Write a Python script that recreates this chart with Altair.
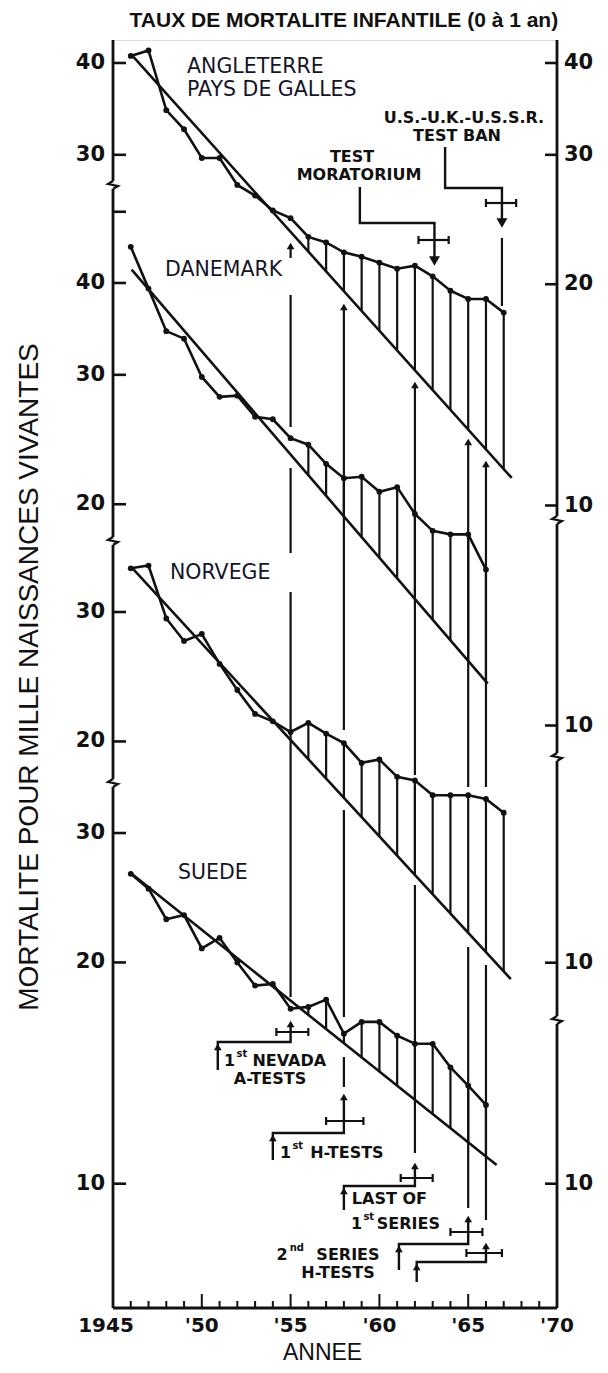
import altair as alt
import pandas as pd

# ---------------- data ----------------
years_en = list(range(1946, 1968))
mort_en = [40.9, 41.6, 34.5, 32.5, 29.7, 29.7, 27.3, 26.4, 25.2, 24.6, 23.2,
           22.8, 22.1, 21.8, 21.4, 21.0, 21.2, 20.5, 19.6, 19.1, 19.1, 18.3]
years_dk = list(range(1946, 1967))
mort_dk = [44.8, 39.3, 34.4, 33.6, 29.8, 28.0, 28.1, 26.3, 26.1, 24.6, 24.1,
           22.7, 21.7, 21.8, 20.8, 21.1, 19.4, 18.4, 18.2, 18.2, 16.3]
years_no = list(range(1946, 1968))
mort_no = [34.4, 34.7, 29.4, 27.4, 28.0, 25.5, 23.5, 21.8, 21.3, 20.6, 21.2,
           20.5, 19.9, 18.7, 18.9, 17.9, 17.7, 16.9, 16.9, 16.9, 16.7, 16.0]
years_se = list(range(1946, 1967))
mort_se = [26.4, 25.2, 22.9, 23.2, 20.9, 21.6, 20.0, 18.6, 18.7, 17.3, 17.4,
           17.8, 16.0, 16.6, 16.6, 15.9, 15.5, 15.5, 14.4, 13.6, 12.8]

series_keys = ["en", "dk", "no", "se"]
series_years = [years_en, years_dk, years_no, years_se]
series_vals = [mort_en, mort_dk, mort_no, mort_se]
series_labels = [["ANGLETERRE", "PAYS DE GALLES"], ["DANEMARK"], ["NORVEGE"], ["SUEDE"]]

# trend lines (end points)
trend_y0 = [1946.1, 1946.05, 1946.1, 1946.05]
trend_v0 = [40.9, 41.7, 34.4, 26.4]
trend_y1 = [1967.45, 1966.1, 1967.4, 1966.6]
trend_v1 = [10.9, 11.4, 9.5, 10.6]
hatch_from = [1956, 1956, 1956, 1956]

# axis ticks
left_tick_vals = [[40, 30], [50, 40, 30, 20], [30, 20], [30, 20, 10]]
left_tick_show = [[True, True], [False, True, True, True], [True, True], [True, True, True]]
right_tick_vals = [[40, 30, 20, 10], [10], [10], [10]]
x_major = [1945, 1950, 1955, 1960, 1965, 1970]
x_major_labels = ["1945", "'50", "'55", "'60", "'65", "'70"]

# events
event_years = [1955, 1958, 1962, 1965, 1966]

# ---------------- layout ----------------
PX_DEC = 735.0                                    # pixels per decade (log scale)
panel_off = [1240.5, 1460.5, 1697.7, 1918.7]      # page y of value 1 for each panel
Y_TOP, Y_BOT = 40, 1308
X0, X1 = 1945, 1970
W, H = 444, Y_BOT - Y_TOP
PXY = 444 / 25.0                                  # px per year

BLACK = "#111111"
FNT = "DejaVu Sans"
FNT2 = "Liberation Sans"

xs = alt.Scale(domain=[X0, X1], nice=False, zero=False)
ys = alt.Scale(domain=[Y_TOP, Y_BOT], reverse=True, nice=False, zero=False)


def X(f="x"):
    return alt.X(f + ":Q", scale=xs, axis=None)


def Y(f="y"):
    return alt.Y(f + ":Q", scale=ys, axis=None)


LOGPOS = "datum.off - %f * log(datum.value) / LN10" % PX_DEC

# observations table
obs_rows = []
for k, key in enumerate(series_keys):
    for yr, v in zip(series_years[k], series_vals[k]):
        obs_rows.append(dict(series=key, x=yr, value=v, off=panel_off[k],
                             t0=trend_y0[k], v0=trend_v0[k], t1=trend_y1[k], v1=trend_v1[k],
                             hf=hatch_from[k]))
obs = pd.DataFrame(obs_rows)

trend_rows = []
for k, key in enumerate(series_keys):
    trend_rows.append(dict(series=key, x=trend_y0[k], value=trend_v0[k], off=panel_off[k], o=0))
    trend_rows.append(dict(series=key, x=trend_y1[k], value=trend_v1[k], off=panel_off[k], o=1))
trend = pd.DataFrame(trend_rows)

base_obs = alt.Chart(obs).transform_calculate(y=LOGPOS)

data_line = base_obs.mark_line(color=BLACK, strokeWidth=2.6).encode(
    x=X(), y=Y(), detail="series:N", order="x:Q")
data_pts = base_obs.mark_circle(color=BLACK, opacity=1, size=34).encode(x=X(), y=Y())

hatch = alt.Chart(obs).transform_filter("datum.x >= datum.hf").transform_calculate(
    y=LOGPOS,
    y2="datum.off - %f * (log(datum.v0) + (datum.x - datum.t0) / (datum.t1 - datum.t0) * (log(datum.v1) - log(datum.v0))) / LN10" % PX_DEC,
).mark_rule(color=BLACK, strokeWidth=2.2).encode(x=X(), y=Y(), y2="y2:Q")

trend_line = alt.Chart(trend).transform_calculate(y=LOGPOS).mark_line(
    color=BLACK, strokeWidth=2.6).encode(x=X(), y=Y(), detail="series:N", order="o:Q")

# axis ticks and labels
tick_rows = []
for k, key in enumerate(series_keys):
    for v, show in zip(left_tick_vals[k], left_tick_show[k]):
        tick_rows.append(dict(side="L", x=X0, x2=X0 + 13 / PXY, value=v, off=panel_off[k],
                              label=str(v) if show else ""))
    for v in right_tick_vals[k]:
        tick_rows.append(dict(side="R", x=X1, x2=X1 - 12 / PXY, value=v, off=panel_off[k],
                              label=str(v)))
ticks = pd.DataFrame(tick_rows)
base_ticks = alt.Chart(ticks).transform_calculate(y=LOGPOS)
tick_marks = base_ticks.mark_rule(color=BLACK, strokeWidth=2.6).encode(x=X(), x2="x2:Q", y=Y())
tick_lab_l = base_ticks.transform_filter("datum.side == 'L'").mark_text(
    font=FNT, fontWeight="bold", fontSize=21, align="right", baseline="middle", dx=-8, color=BLACK
).encode(x=X(), y=Y(), text="label:N")
tick_lab_r = base_ticks.transform_filter("datum.side == 'R'").mark_text(
    font=FNT, fontWeight="bold", fontSize=21, align="left", baseline="middle", dx=7, color=BLACK
).encode(x=X(), y=Y(), text="label:N")

# axis lines with breaks
axis_segments = pd.DataFrame(dict(
    x=[X0] * 4 + [X1] * 4,
    y=[Y_TOP, 189, 545, 787, Y_TOP, 524, 761, 1024],
    y2=[181, 537, 779, Y_BOT, 516, 753, 1016, Y_BOT],
))
axis_lines = alt.Chart(axis_segments).mark_rule(color=BLACK, strokeWidth=2.8).encode(
    x=X(), y=Y(), y2="y2:Q")

break_centres = [(X0, 185), (X0, 541), (X0, 783), (X1, 520), (X1, 757), (X1, 1020)]
zig = [(0, -4), (-5, -1), (5, 1), (0, 4)]
brk_rows = []
for i, (bx, by) in enumerate(break_centres):
    for j, (dx, dy) in enumerate(zig):
        brk_rows.append(dict(b=i, o=j, x=bx + dx / PXY, y=by + dy))
breaks = alt.Chart(pd.DataFrame(brk_rows)).mark_line(color=BLACK, strokeWidth=2.2).encode(
    x=X(), y=Y(), detail="b:N", order="o:Q")

x_axis_line = alt.Chart(pd.DataFrame(dict(x=[X0], x2=[X1], y=[Y_BOT]))).mark_rule(
    color=BLACK, strokeWidth=2.8).encode(x=X(), x2="x2:Q", y=Y())
xt_rows = []
for yr in range(X0 + 1, X1):
    xt_rows.append(dict(x=yr, y=Y_BOT, y2=Y_BOT - (14 if yr % 5 == 0 else 7)))
x_ticks = alt.Chart(pd.DataFrame(xt_rows)).mark_rule(color=BLACK, strokeWidth=2).encode(
    x=X(), y=Y(), y2="y2:Q")
x_lab_df = pd.DataFrame(dict(x=x_major, y=[1326] * 6, t=x_major_labels))
x_lab_df.loc[0, "x"] = X0 - 7 / PXY
x_labels = alt.Chart(x_lab_df).mark_text(
    font=FNT, fontWeight="bold", fontSize=20, align="center", baseline="middle", color=BLACK
).encode(x=X(), y=Y(), text="t:N")

# event lines (segments, page y)
ev_seg = pd.DataFrame(dict(
    x=[1955, 1955, 1955, 1955, 1958, 1958, 1958, 1962, 1962, 1962, 1965, 1965, 1966, 1966, 1966.9],
    y=[246, 295, 468, 592, 307, 810, 1057, 385, 785, 885, 442, 947, 464, 965, 238],
    y2=[258, 427, 553, 997, 730, 1017, 1087, 775, 870, 1153, 787, 1208, 787, 1220, 306],
))
ev_lines = alt.Chart(ev_seg).mark_rule(color=BLACK, strokeWidth=2.2).encode(x=X(), y=Y(), y2="y2:Q")

# markers: tip, elbow, label arrow
markers = [
    # (event year, tip y, elbow y, label-arrow year, label-arrow bottom y, cross y, cross x0, cross x1)
    (1955, 1020, 1042, 1950.9, 1070, 1032, 1954.2, 1956.0),
    (1958, 1093, 1133, 1954.0, 1160, 1121, 1957.0, 1959.1),
    (1962, 1162, 1186, 1958.0, 1210, 1178, 1961.2, 1963.0),
    (1965, 1215, 1244, 1961.1, 1270, 1232, 1964.0, 1965.8),
    (1966, 1242, 1262, 1962.1, 1282, 1253, 1964.9, 1966.9),
]
top_markers = [
    # (start year, start y, elbow y, arrow year, tip y, cross y, cross x0, cross x1)
    (1958.9, 187, 223, 1963.1, 265, 240, 1962.2, 1963.9),
    (1963.7, 147, 188, 1966.9, 227, 203, 1966.0, 1967.7),
]
path_rows, up_rows, down_rows, cross_rows, cap_rows = [], [], [], [], []
pid = 0
for (ey, tip, elb, lx, lb, cy, c0, c1) in markers:
    for o, (px, py) in enumerate([(ey, tip + 4), (ey, elb), (lx, elb), (lx, lb)]):
        path_rows.append(dict(p=pid, o=o, x=px, y=py))
    pid += 1
    up_rows += [dict(x=ey, y=tip + 4), dict(x=lx, y=elb + 5)]
    cross_rows.append(dict(x=c0, x2=c1, y=cy))
    cap_rows += [dict(x=c0, y=cy - 4, y2=cy + 4), dict(x=c1, y=cy - 4, y2=cy + 4)]
for (sx, sy, elb, ax, tip, cy, c0, c1) in top_markers:
    for o, (px, py) in enumerate([(sx, sy), (sx, elb), (ax, elb), (ax, tip - 4)]):
        path_rows.append(dict(p=pid, o=o, x=px, y=py))
    pid += 1
    down_rows.append(dict(x=ax, y=tip - 4))
    cross_rows.append(dict(x=c0, x2=c1, y=cy))
    cap_rows += [dict(x=c0, y=cy - 4, y2=cy + 4), dict(x=c1, y=cy - 4, y2=cy + 4)]
for ey, ty in zip(event_years, [246, 307, 385, 442, 464]):
    up_rows.append(dict(x=ey, y=ty))

paths = alt.Chart(pd.DataFrame(path_rows)).mark_line(color=BLACK, strokeWidth=2.4).encode(
    x=X(), y=Y(), detail="p:N", order="o:Q")
up_heads = alt.Chart(pd.DataFrame(up_rows)).mark_point(
    shape="triangle-up", filled=True, color=BLACK, opacity=1, size=60).encode(x=X(), y=Y())
down_heads = alt.Chart(pd.DataFrame(down_rows)).mark_point(
    shape="triangle-down", filled=True, color=BLACK, opacity=1, size=120).encode(x=X(), y=Y())
crosses = alt.Chart(pd.DataFrame(cross_rows)).mark_rule(color=BLACK, strokeWidth=2.2).encode(
    x=X(), x2="x2:Q", y=Y())
caps = alt.Chart(pd.DataFrame(cap_rows)).mark_rule(color=BLACK, strokeWidth=2.2).encode(
    x=X(), y=Y(), y2="y2:Q")

# annotation texts
ann = pd.DataFrame([
    dict(x=1964.76, y=118, t="U.S.-U.K.-U.S.S.R.", a="center"),
    dict(x=1964.37, y=136, t="TEST  BAN", a="center"),
    dict(x=1958.46, y=157, t="TEST", a="center"),
    dict(x=1958.85, y=175, t="MORATORIUM", a="center"),
    dict(x=1951.25, y=1061, t="1", a="left"),
    dict(x=1952.85, y=1061, t="NEVADA", a="left"),
    dict(x=1953.84, y=1079, t="A-TESTS", a="center"),
    dict(x=1954.4, y=1153, t="1", a="left"),
    dict(x=1956.1, y=1153, t="H-TESTS", a="left"),
    dict(x=1958.45, y=1199, t="LAST OF", a="left"),
    dict(x=1958.4, y=1224, t="1", a="left"),
    dict(x=1959.85, y=1224, t="SERIES", a="left"),
    dict(x=1954.2, y=1255, t="2", a="left"),
    dict(x=1956.45, y=1255, t="SERIES", a="left"),
    dict(x=1957.67, y=1273, t="H-TESTS", a="center"),
])
sup = pd.DataFrame([
    dict(x=1951.95, y=1054, t="st"),
    dict(x=1955.1, y=1146, t="st"),
    dict(x=1959.1, y=1217, t="st"),
    dict(x=1954.95, y=1248, t="nd"),
])
ann_c = alt.Chart(ann[ann.a == "center"]).mark_text(
    font=FNT, fontWeight="bold", fontSize=16, align="center", baseline="middle", color=BLACK
).encode(x=X(), y=Y(), text="t:N")
ann_l = alt.Chart(ann[ann.a == "left"]).mark_text(
    font=FNT, fontWeight="bold", fontSize=16, align="left", baseline="middle", color=BLACK
).encode(x=X(), y=Y(), text="t:N")
sup_t = alt.Chart(sup).mark_text(
    font=FNT, fontWeight="bold", fontSize=10, align="left", baseline="middle", color=BLACK
).encode(x=X(), y=Y(), text="t:N")

# series labels
lab = pd.DataFrame([
    dict(x=1949.17, y=67, t=series_labels[0][0]),
    dict(x=1949.17, y=90, t=series_labels[0][1]),
    dict(x=1947.93, y=270, t=series_labels[1][0]),
    dict(x=1948.21, y=573, t=series_labels[2][0]),
    dict(x=1948.66, y=873, t=series_labels[3][0]),
])
lab_t = alt.Chart(lab).mark_text(
    font=FNT, fontSize=20.5, align="left", baseline="middle", color="#15152a"
).encode(x=X(), y=Y(), text="t:N")

titles = pd.DataFrame([
    dict(x=1958.0, y=21, t="TAUX DE MORTALITE INFANTILE (0 à 1 an)"),
])
title_t = alt.Chart(titles).mark_text(
    font=FNT2, fontWeight="bold", fontSize=21, align="center", baseline="middle", color=BLACK
).encode(x=X(), y=Y(), text="t:N")
annee_t = alt.Chart(pd.DataFrame(dict(x=[1956.8], y=[1360], t=["ANNEE"]))).mark_text(
    font=FNT2, fontSize=23, align="center", baseline="alphabetic", color=BLACK
).encode(x=X(), y=Y(), text="t:N")
ytitle_t = alt.Chart(pd.DataFrame(dict(x=[1940.35], y=[677],
                                       t=["MORTALITE POUR MILLE NAISSANCES VIVANTES"]))).mark_text(
    font=FNT2, fontSize=28, angle=270, align="center", baseline="middle", color=BLACK
).encode(x=X(), y=Y(), text="t:N")

chart = alt.layer(
    hatch, ev_lines, trend_line, data_line, data_pts,
    axis_lines, breaks, tick_marks, tick_lab_l, tick_lab_r,
    x_axis_line, x_ticks, x_labels,
    paths, up_heads, down_heads, crosses, caps,
    ann_c, ann_l, sup_t, lab_t, title_t, annee_t, ytitle_t,
).properties(
    width=W, height=H,
    autosize=alt.AutoSizeParams(type="none"),
    padding={"left": 105, "top": 32, "right": 43, "bottom": 57},
).configure_view(stroke=None).configure(background="white")

chart.save("out.html", embed_options={"renderer": "svg", "actions": False})
